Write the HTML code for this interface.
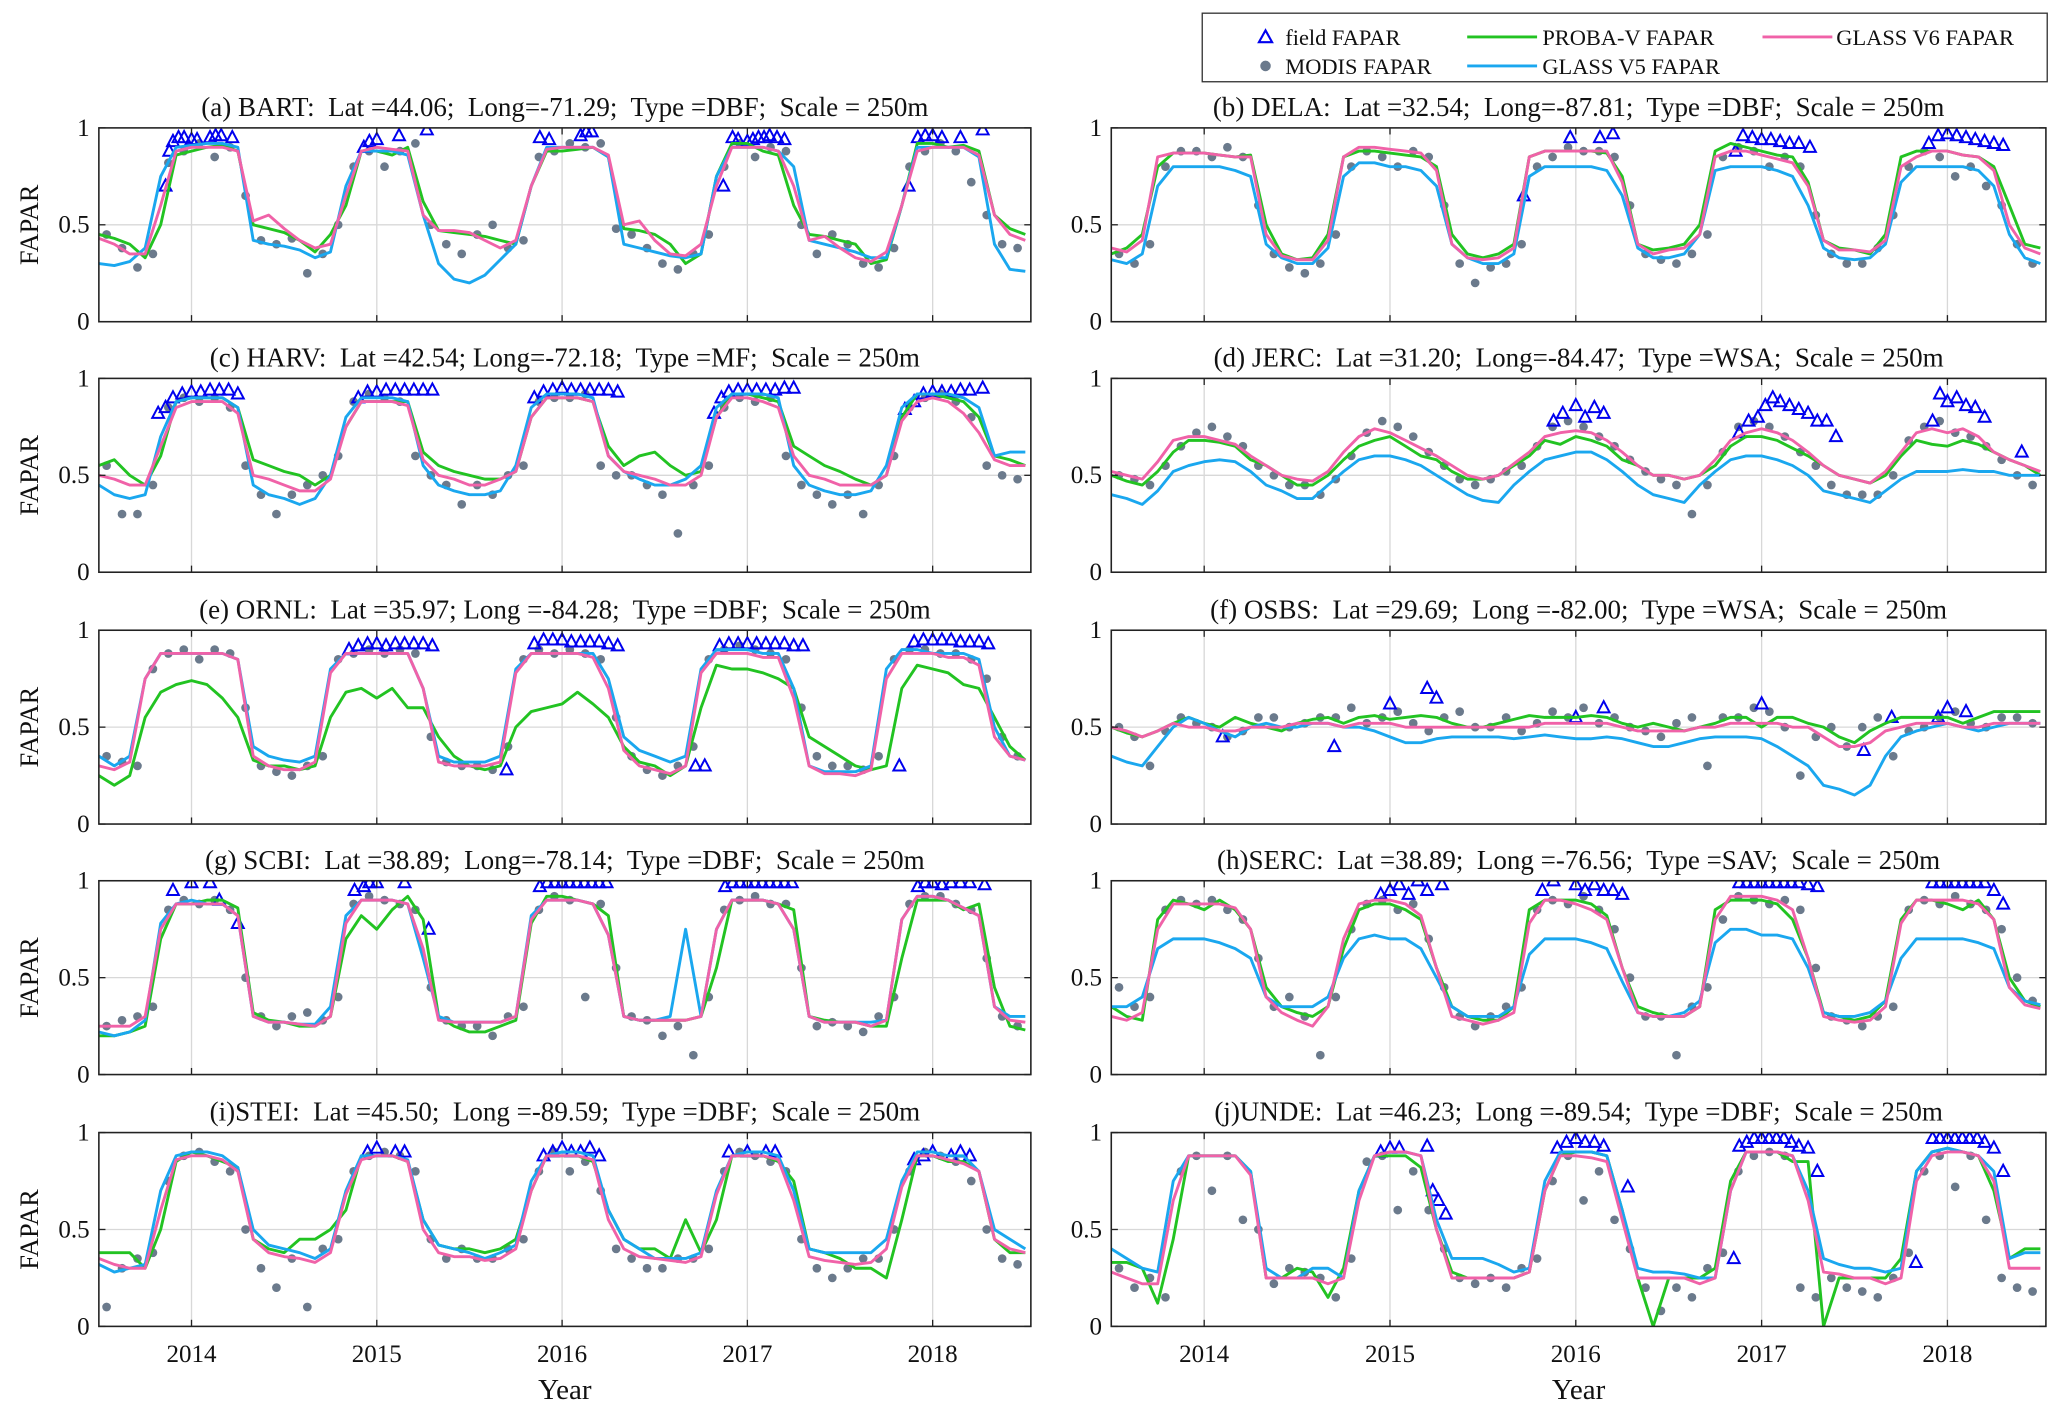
<!DOCTYPE html>
<html><head><meta charset="utf-8"><title>FAPAR comparison</title>
<style>html,body{margin:0;padding:0;background:#fff}svg{display:block}text{font-family:"Liberation Serif",serif;fill:#111;white-space:pre}</style>
</head><body>
<svg id="chart" xmlns="http://www.w3.org/2000/svg" width="2067" height="1420" viewBox="0 0 1568 1077" preserveAspectRatio="none">
<rect x="0" y="0" width="1568" height="1077" fill="#fff"/>
<g>
<rect x="912" y="10" width="641" height="52" fill="#fff" stroke="#333" stroke-width="1"/>
<polygon points="960,23 955,32 965,32" fill="none" stroke="#0000ee" stroke-width="1.6"/>
<text x="975" y="34" font-size="17">field FAPAR</text>
<circle cx="960" cy="50" r="4" fill="#6b7a8c"/>
<text x="975" y="56" font-size="17">MODIS FAPAR</text>
<line x1="1113" y1="28" x2="1166" y2="28" stroke="#22c322" stroke-width="2.2"/>
<text x="1170" y="34" font-size="17">PROBA-V FAPAR</text>
<line x1="1113" y1="50" x2="1166" y2="50" stroke="#1aa7ef" stroke-width="2.2"/>
<text x="1170" y="56" font-size="17">GLASS V5 FAPAR</text>
<line x1="1337" y1="28" x2="1390" y2="28" stroke="#f062a8" stroke-width="2.2"/>
<text x="1393" y="34" font-size="17">GLASS V6 FAPAR</text>
</g>
</svg>
<script>
// monthly series: x = 2013.5 + i/12 ; values in percent FAPAR
const years=[2014,2015,2016,2017,2018];
const yTicks=[0,0.5,1];
const yTickLabels=["0","0.5","1"];
const titles=["(a) BART:  Lat =44.06;  Long=-71.29;  Type =DBF;  Scale = 250m","(b) DELA:  Lat =32.54;  Long=-87.81;  Type =DBF;  Scale = 250m","(c) HARV:  Lat =42.54; Long=-72.18;  Type =MF;  Scale = 250m","(d) JERC:  Lat =31.20;  Long=-84.47;  Type =WSA;  Scale = 250m","(e) ORNL:  Lat =35.97; Long =-84.28;  Type =DBF;  Scale = 250m","(f) OSBS:  Lat =29.69;  Long =-82.00;  Type =WSA;  Scale = 250m","(g) SCBI:  Lat =38.89;  Long=-78.14;  Type =DBF;  Scale = 250m","(h)SERC:  Lat =38.89;  Long =-76.56;  Type =SAV;  Scale = 250m","(i)STEI:  Lat =45.50;  Long =-89.59;  Type =DBF;  Scale = 250m","(j)UNDE:  Lat =46.23;  Long =-89.54;  Type =DBF;  Scale = 250m"];
const green=[
[45,43,40,33,50,86,88,90,91,88,50,48,46,42,36,45,60,88,88,86,90,62,47,46,45,44,42,40,70,88,88,89,90,85,48,47,45,40,30,35,75,92,92,88,86,60,45,44,42,40,30,32,60,92,92,90,91,88,55,48,45],
[35,38,45,80,87,87,87,86,85,86,50,35,32,33,45,85,88,88,87,86,85,80,45,35,33,35,40,85,88,88,88,88,87,75,40,37,38,40,50,88,92,90,88,86,85,72,42,38,37,35,45,85,88,88,88,86,85,80,60,40,38],
[55,58,50,45,60,88,90,90,90,85,58,55,52,50,45,50,75,88,88,88,88,62,55,52,50,48,48,52,80,90,90,90,88,65,55,60,62,55,50,52,80,92,92,90,88,65,60,55,52,48,45,50,80,92,92,90,88,80,60,58,55],
[50,47,45,52,62,68,68,67,65,58,55,50,45,45,50,58,65,68,70,65,60,58,52,48,48,50,55,60,68,66,70,68,65,58,55,50,50,48,50,55,65,70,70,68,64,60,55,50,48,46,50,60,68,66,65,68,66,62,58,55,50],
[25,20,25,55,68,72,74,72,65,55,33,30,30,28,30,55,68,70,65,70,60,60,45,35,30,28,30,50,58,60,62,68,62,55,40,32,30,25,30,60,82,80,80,78,75,70,45,40,35,30,28,30,70,82,80,78,72,70,55,40,33],
[50,47,45,48,52,55,52,50,55,52,50,48,52,54,55,52,55,56,54,55,56,55,52,50,50,52,54,56,55,55,55,56,55,52,50,52,50,48,50,52,55,55,50,55,55,52,50,45,42,48,52,55,55,55,55,52,55,58,58,58,58],
[20,20,22,25,70,88,88,90,90,86,32,28,27,25,25,30,70,82,75,85,92,80,30,25,22,22,25,28,78,92,92,90,88,82,30,28,28,28,28,30,55,90,90,90,88,85,30,28,27,27,25,25,60,90,90,90,85,88,45,25,23],
[35,30,28,80,90,88,85,90,85,75,45,35,32,30,35,65,85,88,88,85,80,55,35,30,28,28,35,85,90,90,90,88,82,55,35,32,30,30,35,85,90,90,90,88,80,60,32,30,28,30,38,80,90,90,88,85,90,80,50,38,35],
[38,38,38,30,50,85,90,88,85,82,45,40,38,45,45,50,60,88,88,88,85,55,42,40,40,38,40,45,70,88,88,88,85,60,45,40,40,35,55,38,55,88,88,88,85,75,40,38,35,30,30,25,55,88,88,85,85,80,45,38,38],
[33,33,30,12,45,88,88,88,88,80,25,25,30,28,15,30,70,88,88,88,82,50,28,25,25,25,25,28,70,88,90,90,88,60,25,0,25,25,25,30,75,90,90,90,85,85,0,25,25,25,25,35,80,90,92,90,88,70,35,40,40]];
const blue=[
[30,29,31,38,75,90,91,92,92,90,42,40,39,37,33,36,70,88,88,88,86,55,30,22,20,24,32,40,70,90,90,90,90,85,40,38,36,34,33,35,75,90,90,90,88,80,42,40,38,36,33,33,60,90,90,90,90,85,40,27,26],
[32,30,35,70,80,80,80,80,78,75,40,33,30,30,38,75,82,82,80,80,78,70,40,33,30,30,35,75,80,80,80,80,78,65,38,33,33,35,45,78,80,80,80,78,75,60,38,33,32,33,40,72,80,80,80,80,78,70,45,33,30],
[45,40,38,40,70,88,90,90,90,85,45,40,38,35,38,50,80,90,90,90,88,55,45,42,40,40,42,55,85,92,92,92,90,60,52,48,45,45,48,55,85,92,92,92,90,55,45,42,40,40,42,55,85,92,92,92,90,85,60,62,62],
[40,38,35,42,52,55,57,58,57,52,45,42,38,38,45,52,58,60,60,58,55,50,45,40,37,36,45,52,58,60,62,62,58,52,45,40,38,36,45,52,58,60,60,58,55,50,42,40,38,36,42,48,52,52,52,53,52,52,50,50,50],
[35,30,35,75,88,88,88,88,88,85,40,35,33,32,35,80,88,88,88,88,88,70,35,32,32,32,35,80,88,88,88,88,88,75,45,38,35,32,35,80,90,90,90,88,88,70,30,27,27,27,30,80,90,90,88,88,88,85,50,35,33],
[35,32,30,40,50,55,52,48,45,50,52,50,50,52,52,50,50,48,45,42,42,44,45,45,45,45,44,45,46,45,44,44,45,44,42,40,40,42,44,45,45,45,44,40,35,30,20,18,15,20,35,45,48,50,52,50,48,50,52,52,52],
[22,20,22,28,78,88,90,88,88,82,30,27,27,26,26,35,82,90,90,90,88,60,30,27,27,27,27,30,82,90,90,90,88,72,30,28,28,30,75,30,75,90,90,90,88,75,30,27,27,27,27,28,80,92,92,90,86,82,35,30,30],
[35,35,40,65,70,70,70,68,65,60,40,35,35,35,40,60,70,72,70,70,65,50,35,30,30,30,35,62,70,70,70,68,65,48,32,30,30,32,38,68,75,75,72,72,70,55,32,30,30,32,38,60,70,70,70,70,68,65,45,38,36],
[32,28,30,32,70,88,90,90,88,82,50,42,40,38,35,40,70,88,88,88,86,55,42,40,38,35,38,42,75,88,90,90,88,60,45,40,35,35,35,38,70,88,90,90,88,70,40,38,38,38,38,45,75,90,90,88,88,80,50,45,40],
[40,35,30,28,75,88,88,88,88,80,30,25,25,30,30,25,70,88,90,90,88,55,35,35,35,32,28,30,75,90,90,90,88,60,30,28,28,27,25,25,70,90,90,90,88,70,35,32,30,30,28,30,80,90,92,90,88,80,35,38,38]];
const pink=[
[43,40,35,35,60,88,90,90,90,88,52,55,48,42,38,40,65,88,90,89,88,55,47,47,46,42,38,42,70,89,90,90,90,86,50,52,42,35,34,40,70,90,90,90,88,70,42,44,38,33,31,36,60,88,90,90,90,86,55,45,42],
[38,36,42,85,87,87,87,86,85,85,45,34,32,32,42,85,90,90,89,88,87,78,40,33,32,33,38,85,88,88,88,88,88,72,40,35,37,38,45,85,88,88,86,84,82,70,42,37,37,36,42,80,85,88,88,86,85,78,50,38,35],
[50,48,45,45,65,85,88,88,88,82,50,48,45,42,42,48,75,88,88,88,86,58,50,48,45,45,48,52,80,90,90,90,88,60,52,50,48,45,45,50,80,90,90,88,85,60,50,48,45,45,45,50,78,88,90,88,82,72,58,55,55],
[52,50,48,57,68,70,70,68,66,60,55,50,48,47,52,62,70,74,72,68,64,60,55,50,48,50,56,62,70,72,73,72,68,62,55,50,50,48,50,58,68,72,74,72,68,62,55,50,48,46,52,62,72,74,72,74,70,62,58,55,52],
[30,28,32,75,88,88,88,88,88,85,35,30,28,28,32,78,88,88,88,88,88,70,32,30,30,30,32,78,88,88,88,88,86,70,38,30,28,26,30,78,88,88,88,86,86,65,30,26,26,25,28,75,88,88,88,86,86,82,45,35,33],
[50,48,45,48,52,50,50,48,48,50,50,50,52,52,52,50,52,52,52,50,50,50,50,50,50,50,50,50,52,52,52,52,52,50,48,48,48,48,50,50,52,52,52,52,50,50,45,40,40,42,48,50,52,52,52,50,50,52,52,52,52],
[25,25,25,30,75,88,88,88,88,82,30,27,27,26,25,30,78,90,90,90,88,65,28,27,27,27,27,30,80,90,90,90,88,72,30,28,28,28,28,30,75,90,90,90,88,75,30,27,27,27,25,28,80,92,92,90,86,82,35,28,27],
[30,28,32,75,88,88,88,88,86,75,40,32,28,25,35,70,88,90,90,88,82,55,30,28,26,28,32,78,90,90,88,85,80,55,32,30,30,30,35,80,92,92,92,90,85,60,30,28,27,28,35,78,90,90,90,90,88,80,45,36,34],
[35,32,30,30,60,86,88,88,86,80,45,38,36,35,33,38,68,86,88,88,85,50,38,36,36,34,35,40,70,88,88,88,86,55,40,36,35,34,33,36,68,88,88,88,86,65,36,34,33,32,33,40,72,88,88,86,84,80,45,40,38],
[28,25,22,22,65,88,88,88,88,78,25,25,25,25,22,25,65,88,90,90,88,50,25,25,25,25,25,28,70,88,88,87,85,55,25,25,25,25,22,25,70,90,90,90,88,65,28,27,25,25,22,25,75,88,90,90,88,75,30,30,30]];
const modis=[
[45,38,28,35,82,88,92,85,90,65,42,40,43,25,35,50,80,88,80,88,92,50,40,35,45,50,38,42,85,88,92,90,92,48,45,38,30,27,35,45,80,92,85,90,88,50,35,45,40,30,28,38,80,88,92,88,72,55,40,38],
[35,30,40,80,88,88,85,90,85,60,35,28,25,30,45,80,88,85,80,88,85,60,30,20,28,30,40,80,85,90,88,88,85,60,35,32,30,35,45,85,90,88,80,85,80,55,35,30,30,38,55,80,88,85,75,80,70,60,40,30],
[55,30,30,45,85,90,88,90,85,55,40,30,40,45,50,60,88,92,90,88,60,50,45,35,45,40,50,55,88,90,90,92,55,50,50,45,40,20,45,55,85,90,88,90,60,45,40,35,40,30,45,60,85,90,92,88,80,55,50,48],
[50,48,45,55,65,72,75,70,65,55,50,45,45,40,48,60,72,78,75,70,62,55,48,45,48,52,55,65,75,78,75,70,65,58,52,48,45,30,45,62,75,78,75,70,62,55,45,40,40,40,50,68,75,78,72,70,65,58,50,45],
[35,32,30,80,88,90,85,90,88,60,30,27,25,30,35,85,88,90,88,90,88,45,32,30,30,28,40,85,90,88,90,88,85,55,35,28,25,30,40,85,90,92,90,88,85,60,35,30,30,28,35,85,90,90,88,88,85,75,45,35],
[50,45,30,48,55,52,50,45,48,55,55,50,52,55,55,60,52,55,58,52,48,55,58,50,50,55,48,52,58,55,60,52,55,50,48,45,52,55,30,55,55,60,58,50,25,45,50,40,50,55,35,48,50,55,58,52,50,55,55,52],
[25,28,30,35,85,90,88,90,85,50,30,25,30,32,28,40,88,92,90,88,85,45,28,25,25,20,30,35,85,92,90,40,88,55,30,28,20,25,10,40,85,90,92,88,88,55,25,27,25,22,30,40,88,92,92,88,85,60,30,25],
[45,35,40,85,90,88,90,85,80,60,35,40,30,10,40,75,88,90,85,88,70,45,30,25,30,35,45,85,90,88,92,85,75,50,30,30,10,35,45,80,92,90,88,90,85,55,30,28,25,30,35,85,90,88,92,88,85,75,50,38],
[10,30,35,38,75,88,90,85,80,50,30,20,35,10,40,45,80,88,90,88,80,45,35,40,35,35,40,45,80,90,80,85,70,40,35,30,30,35,35,40,80,90,88,85,80,45,30,25,30,35,35,50,80,90,88,85,75,50,35,32],
[30,20,25,15,80,88,70,88,55,50,22,30,28,25,15,35,85,88,60,80,60,40,25,22,25,20,30,35,75,88,65,80,55,40,20,8,20,15,30,38,80,88,90,88,20,15,25,20,18,15,25,38,80,88,72,88,55,25,20,18]];
const fieldT=[
[2013.86,2013.88,2013.9,2013.93,2013.96,2014.0,2014.03,2014.1,2014.13,2014.16,2014.22,2014.93,2014.96,2015.0,2015.12,2015.27,2015.88,2015.93,2016.1,2016.13,2016.16,2016.87,2016.92,2016.95,2017.0,2017.03,2017.06,2017.09,2017.12,2017.16,2017.2,2017.87,2017.92,2017.96,2018.0,2018.05,2018.15,2018.27],
[2015.72,2015.97,2016.13,2016.2,2016.86,2016.9,2016.95,2017.0,2017.05,2017.1,2017.15,2017.2,2017.26,2017.9,2017.95,2018.0,2018.05,2018.1,2018.15,2018.2,2018.25,2018.3],
[2013.82,2013.86,2013.9,2013.95,2014.0,2014.05,2014.1,2014.15,2014.2,2014.25,2014.9,2014.95,2015.0,2015.05,2015.1,2015.15,2015.2,2015.25,2015.3,2015.85,2015.9,2015.95,2016.0,2016.05,2016.1,2016.15,2016.2,2016.25,2016.3,2016.82,2016.86,2016.9,2016.95,2017.0,2017.05,2017.1,2017.15,2017.2,2017.25,2017.85,2017.9,2017.95,2018.0,2018.05,2018.1,2018.15,2018.2,2018.27],
[2015.88,2015.93,2016.0,2016.05,2016.1,2016.15,2016.88,2016.93,2016.98,2017.02,2017.06,2017.1,2017.15,2017.2,2017.25,2017.3,2017.35,2017.4,2017.92,2017.96,2018.0,2018.05,2018.1,2018.15,2018.2,2018.4],
[2014.85,2014.9,2014.95,2015.0,2015.05,2015.1,2015.15,2015.2,2015.25,2015.3,2015.7,2015.85,2015.9,2015.95,2016.0,2016.05,2016.1,2016.15,2016.2,2016.25,2016.3,2016.72,2016.77,2016.85,2016.9,2016.95,2017.0,2017.05,2017.1,2017.15,2017.2,2017.25,2017.3,2017.82,2017.9,2017.95,2018.0,2018.05,2018.1,2018.15,2018.2,2018.25,2018.3],
[2014.1,2014.7,2015.0,2015.2,2015.25,2016.0,2016.15,2017.0,2017.55,2017.7,2017.95,2018.0,2018.1],
[2013.9,2014.0,2014.1,2014.15,2014.25,2014.88,2014.93,2014.96,2015.0,2015.15,2015.28,2015.88,2015.92,2015.96,2016.0,2016.04,2016.08,2016.12,2016.16,2016.2,2016.24,2016.88,2016.92,2016.96,2017.0,2017.04,2017.08,2017.12,2017.16,2017.2,2017.24,2017.92,2017.96,2018.0,2018.05,2018.1,2018.15,2018.2,2018.28],
[2014.95,2015.0,2015.05,2015.1,2015.15,2015.2,2015.28,2015.82,2015.88,2016.0,2016.05,2016.1,2016.15,2016.2,2016.25,2016.88,2016.92,2016.96,2017.0,2017.04,2017.08,2017.12,2017.16,2017.2,2017.25,2017.3,2017.92,2017.96,2018.0,2018.04,2018.08,2018.12,2018.16,2018.2,2018.25,2018.3],
[2014.95,2015.0,2015.1,2015.15,2015.9,2015.95,2016.0,2016.05,2016.1,2016.15,2016.2,2016.9,2017.0,2017.1,2017.15,2017.9,2017.95,2018.0,2018.1,2018.15,2018.2],
[2014.95,2015.0,2015.05,2015.2,2015.23,2015.26,2015.3,2015.9,2015.95,2016.0,2016.05,2016.1,2016.15,2016.28,2016.85,2016.88,2016.92,2016.96,2017.0,2017.04,2017.08,2017.12,2017.16,2017.2,2017.25,2017.3,2017.83,2017.92,2017.96,2018.0,2018.04,2018.08,2018.12,2018.16,2018.2,2018.25,2018.3]];
const fieldV=[
[0.7,0.88,0.93,0.95,0.95,0.94,0.94,0.95,0.96,0.96,0.95,0.9,0.93,0.94,0.96,0.99,0.95,0.94,0.96,0.98,0.98,0.7,0.95,0.94,0.93,0.94,0.95,0.95,0.96,0.95,0.94,0.7,0.95,0.96,0.96,0.95,0.95,0.99],
[0.65,0.95,0.95,0.97,0.88,0.96,0.95,0.94,0.94,0.93,0.92,0.92,0.9,0.92,0.96,0.97,0.96,0.95,0.94,0.93,0.92,0.91],
[0.82,0.85,0.9,0.92,0.93,0.93,0.94,0.94,0.94,0.92,0.9,0.93,0.93,0.94,0.94,0.94,0.94,0.94,0.94,0.9,0.93,0.94,0.95,0.94,0.94,0.94,0.94,0.94,0.93,0.82,0.9,0.93,0.94,0.94,0.94,0.94,0.94,0.95,0.95,0.84,0.88,0.92,0.93,0.93,0.93,0.94,0.94,0.95],
[0.78,0.82,0.86,0.8,0.85,0.82,0.72,0.78,0.8,0.86,0.9,0.88,0.86,0.84,0.82,0.78,0.78,0.7,0.78,0.92,0.88,0.9,0.86,0.85,0.8,0.62],
[0.9,0.92,0.93,0.93,0.92,0.93,0.93,0.93,0.93,0.92,0.28,0.93,0.95,0.95,0.95,0.94,0.94,0.94,0.94,0.93,0.92,0.3,0.3,0.92,0.93,0.93,0.93,0.93,0.93,0.93,0.93,0.92,0.92,0.3,0.94,0.95,0.95,0.95,0.95,0.94,0.94,0.94,0.93],
[0.45,0.4,0.62,0.7,0.65,0.55,0.6,0.62,0.38,0.55,0.55,0.6,0.58],
[0.95,0.99,0.99,0.9,0.78,0.95,0.97,0.99,0.99,0.99,0.75,0.97,0.99,0.99,0.99,0.99,0.99,0.99,0.99,0.99,0.99,0.97,0.99,0.99,0.99,0.99,0.99,0.99,0.99,0.99,0.99,0.97,0.99,0.99,0.98,0.99,0.99,0.99,0.98],
[0.93,0.95,0.98,0.93,1.0,0.95,0.98,0.95,1.0,0.98,0.95,0.98,0.95,0.95,0.93,0.99,0.99,0.99,0.99,0.99,0.99,0.99,0.99,0.99,0.98,0.97,0.99,0.99,0.99,0.99,0.99,0.99,0.99,0.99,0.95,0.88],
[0.9,0.92,0.9,0.9,0.88,0.9,0.92,0.9,0.9,0.92,0.88,0.9,0.9,0.9,0.9,0.86,0.88,0.9,0.88,0.9,0.88],
[0.9,0.92,0.92,0.93,0.7,0.65,0.58,0.92,0.95,0.97,0.95,0.95,0.93,0.72,0.35,0.93,0.95,0.97,0.97,0.97,0.97,0.97,0.95,0.93,0.92,0.8,0.33,0.97,0.97,0.97,0.97,0.97,0.97,0.97,0.95,0.92,0.8]];

const NS="http://www.w3.org/2000/svg";
const svg=document.getElementById('chart');
const X0=2013.5, X1=2018.53;
const colX=[[75,782],[843,1552]];
const rowT=[97,287,478,668,859], PH=147;
function mk(tag,attrs,parent){const e=document.createElementNS(NS,tag);for(const k in attrs)e.setAttribute(k,attrs[k]);(parent||svg).appendChild(e);return e;}
for(let p=0;p<10;p++){
  const col=p%2,row=Math.floor(p/2);
  const x0=colX[col][0],x1=colX[col][1],y0=rowT[row],y1=y0+PH;
  const sx=t=>x0+(t-X0)/(X1-X0)*(x1-x0);
  const sy=v=>y1-v*(y1-y0);
  const g=mk('g',{});
  
  
  const clipId='clip'+p;
  const cp=mk('clipPath',{id:clipId},g);mk('rect',{x:x0,y:y0,width:x1-x0,height:PH},cp);
  years.forEach(yr=>{const l=mk('line',{x1:sx(yr),x2:sx(yr),y1:y0,y2:y1,stroke:'#d8d8d8','stroke-width':1},g);
    
    });
  const gh=mk('line',{x1:x0,x2:x1,y1:sy(0.5),y2:sy(0.5),stroke:'#d8d8d8','stroke-width':1},g);
  
  
  const plot=mk('g',{'clip-path':'url(#'+clipId+')'},g);
  
  
  modis[p].forEach((v,i)=>{const c=mk('circle',{cx:sx(X0+(i+0.5)/12),cy:sy(v/100),r:3.3,fill:'#6b7a8c'},plot);
    
    });
  fieldT[p].forEach((t,i)=>{const x=sx(t),y=sy(fieldV[p][i]);
    const tr=mk('polygon',{points:`${x},${y-5} ${x-4.5},${y+3.5} ${x+4.5},${y+3.5}`,fill:'none',stroke:'#0000ee','stroke-width':1.5},plot);
    
    });
  [[green,'#22c322','probav-line'],[blue,'#1aa7ef','glassv5-line'],[pink,'#f062a8','glassv6-line']].forEach(([arr,colr,nm])=>{
    const pts=arr[p].map((v,i)=>sx(X0+i/12).toFixed(1)+','+sy(v/100).toFixed(1)).join(' ');
    const pl=mk('polyline',{points:pts,fill:'none',stroke:colr,'stroke-width':2.2,'stroke-linejoin':'round'},plot);
    
    });
  const fr=mk('rect',{x:x0,y:y0,width:x1-x0,height:PH,fill:'none',stroke:'#222','stroke-width':1.2},g);
  
  
  years.forEach(yr=>{mk('line',{x1:sx(yr),x2:sx(yr),y1:y1,y2:y1-5,stroke:'#222'},g);mk('line',{x1:sx(yr),x2:sx(yr),y1:y0,y2:y0+5,stroke:'#222'},g);});
  yTicks.forEach((v,i)=>{mk('line',{x1:x0,x2:x0+5,y1:sy(v),y2:sy(v),stroke:'#222'},g);mk('line',{x1:x1,x2:x1-5,y1:sy(v),y2:sy(v),stroke:'#222'},g);
    const t=mk('text',{x:x0-7,y:sy(v)+6,'text-anchor':'end','font-size':19},g);t.textContent=yTickLabels[i];
    
    });
  const tt=mk('text',{x:(x0+x1)/2,y:y0-9,'text-anchor':'middle','font-size':20.5},g);tt.textContent=titles[p];
  
  
  if(col===0){const yl=mk('text',{x:0,y:0,transform:`translate(29,${(y0+y1)/2}) rotate(-90)`,'text-anchor':'middle','font-size':20},g);yl.textContent='FAPAR';
    
    }
  if(row===4){years.forEach(yr=>{const t=mk('text',{x:sx(yr),y:1033,'text-anchor':'middle','font-size':19},g);t.textContent=yr;
      
      });
    const xl=mk('text',{x:(x0+x1)/2,y:1061,'text-anchor':'middle','font-size':22},g);xl.textContent='Year';
    
    }
}
</script>
</body></html>
